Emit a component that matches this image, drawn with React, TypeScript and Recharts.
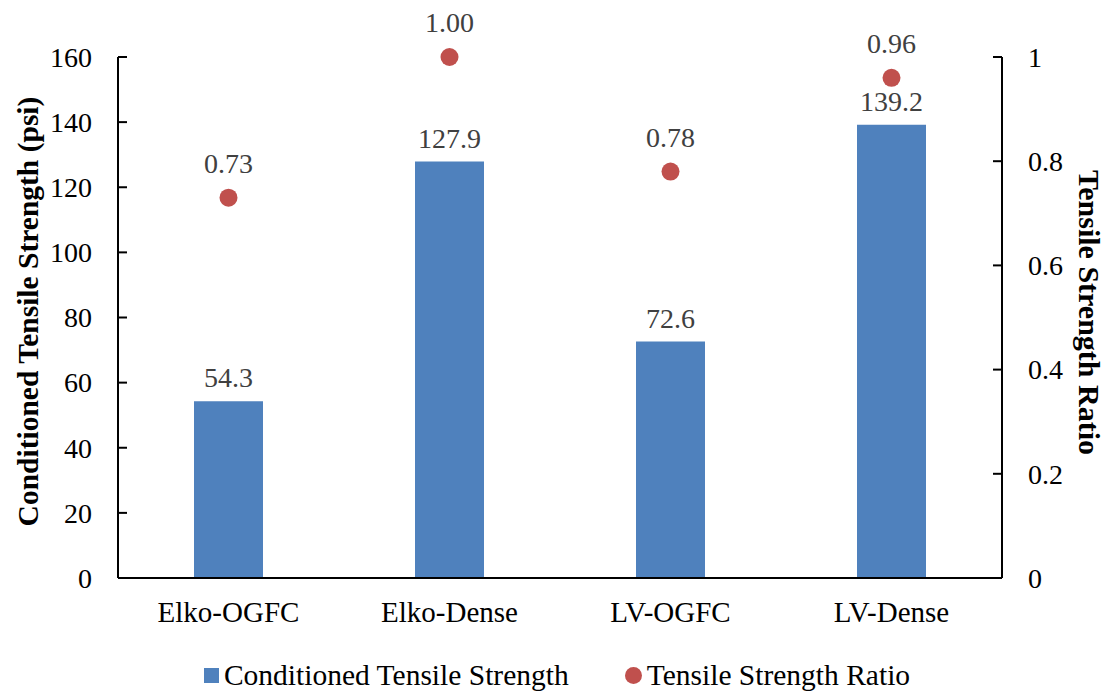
import React from "react";
import {
  ComposedChart,
  Bar,
  Line,
  XAxis,
  YAxis,
  LabelList,
  Legend,
} from "recharts";

const mixes = ["Elko-OGFC", "Elko-Dense", "LV-OGFC", "LV-Dense"];
const conditionedStrength = [54.3, 127.9, 72.6, 139.2];
const strengthRatio = [0.73, 1.0, 0.78, 0.96];
const psiTicks = [0, 20, 40, 60, 80, 100, 120, 140, 160];
const ratioTicks = [0, 0.2, 0.4, 0.6, 0.8, 1];

const data = mixes.map((name, i) => ({
  name,
  cts: conditionedStrength[i],
  tsr: strengthRatio[i],
}));

const FONT = "Liberation Serif";
const BLUE = "#4F81BD";
const RED = "#C0504D";
const LABEL_GRAY = "#404040";

// y-axis ticks point into the plot, so draw the little tick line ourselves
const LeftTick = (props: any) => {
  const { x, y, payload } = props;
  return (
    <g>
      <line x1={x + 26} x2={x + 35} y1={y} y2={y} stroke="#000" strokeWidth={2} />
      <text x={x} y={y} dy="0.35em" textAnchor="end" fontSize={28} fontFamily={FONT} fill="#000">
        {payload.value}
      </text>
    </g>
  );
};

const RightTick = (props: any) => {
  const { x, y, payload } = props;
  return (
    <g>
      <line x1={x - 26} x2={x - 35} y1={y} y2={y} stroke="#000" strokeWidth={2} />
      <text x={x} y={y} dy="0.35em" textAnchor="start" fontSize={28} fontFamily={FONT} fill="#000">
        {String(payload.value)}
      </text>
    </g>
  );
};

const CategoryTick = (props: any) => {
  const { x, y, payload } = props;
  return (
    <text x={x} y={y} dy="0.71em" textAnchor="middle" fontSize={29} fontFamily={FONT} fill="#000">
      {payload.value}
    </text>
  );
};

const ValueLabel = (digits: number, gap: number) => (props: any) => {
  const { x, y, width, value } = props;
  const cx = x + (width || 0) / 2;
  return (
    <text x={cx} y={y - gap} textAnchor="middle" fontSize={28} fontFamily={FONT} fill={LABEL_GRAY}>
      {Number(value).toFixed(digits)}
    </text>
  );
};

const LegendContent = () => (
  <div
    style={{
      display: "flex",
      justifyContent: "center",
      alignItems: "center",
      fontFamily: FONT,
      fontSize: 29.5,
      color: "#000",
      paddingLeft: 8,
      paddingTop: 8,
    }}
  >
    <span style={{ display: "inline-block", width: 15, height: 15, background: BLUE, marginRight: 5 }} />
    <span style={{ fontFamily: FONT }}>Conditioned Tensile Strength</span>
    <span
      style={{
        display: "inline-block",
        width: 17,
        height: 17,
        borderRadius: "50%",
        background: RED,
        marginLeft: 56,
        marginRight: 5,
      }}
    />
    <span style={{ fontFamily: FONT }}>Tensile Strength Ratio</span>
  </div>
);

export default function App() {
  return (
    <div style={{ position: "absolute", left: 0, top: 0, background: "#fff" }}>
      <ComposedChart
        width={1106}
        height={691}
        data={data}
        margin={{ top: 57, right: 0, bottom: 0, left: 0 }}
      >
        <XAxis
          dataKey="name"
          height={73}
          tickLine={false}
          tickSize={0}
          tickMargin={23}
          axisLine={{ stroke: "#000", strokeWidth: 2 }}
          tick={CategoryTick}
        />
        <YAxis
          yAxisId="left"
          width={118}
          domain={[0, 160]}
          ticks={psiTicks}
          tickLine={false}
          tickSize={0}
          tickMargin={26}
          axisLine={{ stroke: "#000", strokeWidth: 2 }}
          tick={LeftTick}
          label={{
            content: (p: any) => {
              const vb = p.viewBox;
              const cx = 28;
              const cy = vb.y + vb.height / 2 - 6;
              return (
                <text
                  x={cx}
                  y={cy}
                  transform={`rotate(-90 ${cx} ${cy})`}
                  textAnchor="middle"
                  dominantBaseline="central"
                  fontFamily={FONT}
                  fontWeight="bold"
                  fontSize={29.5}
                  fill="#000"
                >
                  Conditioned Tensile Strength (psi)
                </text>
              );
            },
          }}
        />
        <YAxis
          yAxisId="right"
          orientation="right"
          width={104}
          domain={[0, 1]}
          ticks={ratioTicks}
          tickLine={false}
          tickSize={0}
          tickMargin={26}
          axisLine={{ stroke: "#000", strokeWidth: 2 }}
          tick={RightTick}
          label={{
            content: (p: any) => {
              const vb = p.viewBox;
              const cx = 1089;
              const cy = vb.y + vb.height / 2 - 5;
              return (
                <text
                  x={cx}
                  y={cy}
                  transform={`rotate(90 ${cx} ${cy})`}
                  textAnchor="middle"
                  dominantBaseline="central"
                  fontFamily={FONT}
                  fontWeight="bold"
                  fontSize={30}
                  fill="#000"
                >
                  Tensile Strength Ratio
                </text>
              );
            },
          }}
        />
        <Legend verticalAlign="bottom" height={40} content={<LegendContent />} />
        <Bar
          yAxisId="left"
          dataKey="cts"
          name="Conditioned Tensile Strength"
          fill={BLUE}
          barSize={69}
          isAnimationActive={false}
        >
          <LabelList dataKey="cts" content={ValueLabel(1, 14)} />
        </Bar>
        <Line
          yAxisId="right"
          dataKey="tsr"
          name="Tensile Strength Ratio"
          stroke="none"
          dot={{ r: 9, fill: RED, stroke: "none" }}
          activeDot={false}
          isAnimationActive={false}
        >
          <LabelList dataKey="tsr" content={ValueLabel(2, 25)} />
        </Line>
      </ComposedChart>
    </div>
  );
}
